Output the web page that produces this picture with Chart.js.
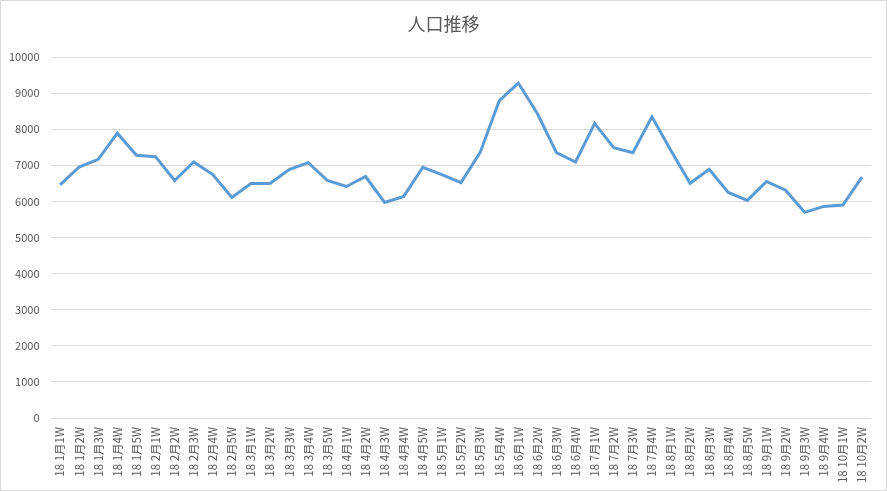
<!DOCTYPE html>
<html>
<head>
<meta charset="utf-8">
<script src="https://cdn.jsdelivr.net/npm/chart.js@4"></script>
<style>
html,body{margin:0;padding:0;background:#fff;}
#wrap{position:relative;width:887px;height:491px;box-sizing:border-box;border:1px solid #d9d9d9;}
canvas{display:block;}
</style>
</head>
<body>
<div id="wrap"><canvas id="c" width="885" height="489"></canvas></div>
<script>
const title = "人口推移";
const categories = [
  "18 1月1W","18 1月2W","18 1月3W","18 1月4W","18 1月5W",
  "18 2月1W","18 2月2W","18 2月3W","18 2月4W","18 2月5W",
  "18 3月1W","18 3月2W","18 3月3W","18 3月4W","18 3月5W",
  "18 4月1W","18 4月2W","18 4月3W","18 4月4W","18 4月5W",
  "18 5月1W","18 5月2W","18 5月3W","18 5月4W",
  "18 6月1W","18 6月2W","18 6月3W","18 6月4W",
  "18 7月1W","18 7月2W","18 7月3W","18 7月4W",
  "18 8月1W","18 8月2W","18 8月3W","18 8月4W","18 8月5W",
  "18 9月1W","18 9月2W","18 9月3W","18 9月4W",
  "18 10月1W","18 10月2W"
];
const population = [
  6457, 6953, 7165, 7890, 7276,
  7240, 6579, 7091, 6744, 6110,
  6496, 6496, 6882, 7074, 6579,
  6413, 6689, 5972, 6138, 6945,
  6744, 6523, 7350, 8783,
  9278, 8433, 7350, 7091,
  8160, 7490, 7350, 8342,
  7405, 6504, 6890, 6248, 6028,
  6551, 6311, 5697, 5862,
  5898, 6670
];
const yTicks = [0,1000,2000,3000,4000,5000,6000,7000,8000,9000,10000];

const font = "'Noto Sans CJK JP','Noto Sans',sans-serif";
const textColor = "#595959";
const gridColor = "#d9d9d9";

const centeredTitle = {
  id: 'centeredTitle',
  afterDraw(chart) {
    const ctx = chart.ctx;
    ctx.save();
    ctx.font = "18px " + font;
    ctx.fillStyle = textColor;
    ctx.textAlign = 'center';
    ctx.textBaseline = 'middle';
    ctx.fillText(title, chart.width / 2, 23);
    ctx.restore();
  }
};

new Chart(document.getElementById('c'), {
  type: 'line',
  data: {
    labels: categories,
    datasets: [{
      label: title,
      data: population,
      borderColor: '#5b9bd5',
      backgroundColor: '#5b9bd5',
      borderWidth: 3,
      pointRadius: 0,
      pointHoverRadius: 0,
      tension: 0,
      fill: false
    }]
  },
  plugins: [centeredTitle],
  options: {
    responsive: false,
    animation: false,
    devicePixelRatio: 1,
    layout: { padding: { left: 0, right: 14.5, top: 56, bottom: 0 } },
    plugins: {
      legend: { display: false },
      tooltip: { enabled: false },
      title: { display: false }
    },
    scales: {
      x: {
        offset: true,
        grid: { display: false, drawTicks: false },
        border: { display: false },
        ticks: {
          autoSkip: false,
          maxRotation: 90,
          minRotation: 90,
          padding: 9,
          color: textColor,
          font: { family: font, size: 11.5 }
        },
        afterFit: s => { s.height = 72; }
      },
      y: {
        min: 0,
        max: 10000,
        afterBuildTicks: s => { s.ticks = yTicks.map(v => ({ value: v })); },
        grid: { color: gridColor, lineWidth: 1, drawTicks: false },
        border: { display: false },
        ticks: {
          padding: 11,
          color: textColor,
          font: { family: font, size: 11 },
          callback: v => String(v)
        },
        afterFit: s => { s.width = 49.5; }
      }
    }
  }
});
</script>
</body>
</html>
